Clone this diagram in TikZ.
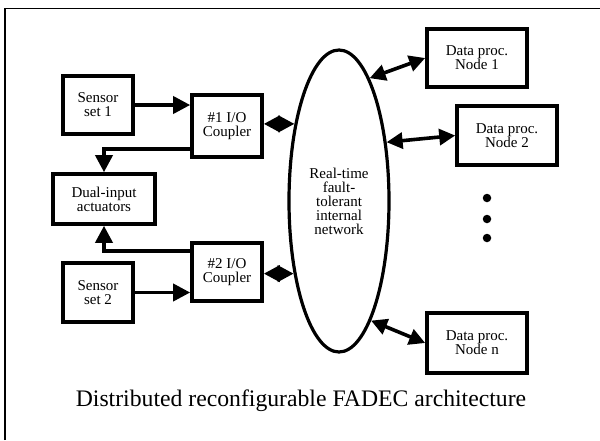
\documentclass[tikz,border=0pt]{standalone}
\usepackage{fontspec}
\setmainfont{Liberation Serif}
\usetikzlibrary{arrows.meta,shapes.geometric}

\tikzset{
  box/.style={draw, line width=3.6pt, rectangle, inner sep=0pt, align=center,
    font=\fontsize{15}{14}\selectfont},
  net/.style={draw, line width=3.2pt, ellipse, inner sep=0pt, align=center,
    font=\fontsize{15}{14}\selectfont},
  link/.style={line width=3.6pt, -{Triangle[length=17pt,width=17pt]}},
  dlink/.style={line width=3.6pt, {Triangle[length=16pt,width=16pt]}-{Triangle[length=16pt,width=16pt]}},
  dot/.style={circle, fill, inner sep=0pt, minimum size=8.5pt}
}

\begin{document}
\begin{tikzpicture}[x=1pt, y=-1pt]
\useasboundingbox (0,0) rectangle (600,440);

% frame (top and left edges)
\draw[line width=1.2pt] (5,440) -- (5,8.3) -- (600,8.3);

% left column
\node[box, minimum width=70pt, minimum height=58pt] (s1) at (98,105) {Sensor\\set 1};
\node[box, minimum width=70pt, minimum height=62pt] (c1) at (227,126) {\#1 I/O\\Coupler};
\node[box, minimum width=102pt, minimum height=50pt] (act) at (104,199) {Dual-input\\actuators};
\node[box, minimum width=70pt, minimum height=58pt] (c2) at (227,272) {\#2 I/O\\Coupler};
\node[box, minimum width=70pt, minimum height=59pt] (s2) at (98,292.5) {Sensor\\set 2};

% network
\node[net, minimum width=100pt, minimum height=302pt] (net) at (339,201)
  {Real-time\\fault-\\tolerant\\internal\\network};

% processing nodes
\node[box, minimum width=100pt, minimum height=58pt] (n1) at (477,58) {Data proc.\\Node 1};
\node[box, minimum width=100pt, minimum height=59pt] (n2) at (507,135.5) {Data proc.\\Node 2};
\node[box, minimum width=100pt, minimum height=60pt] (nn) at (477,343) {Data proc.\\Node n};

\node[dot] (d1) at (487,198) {};
\node[dot] (d2) at (487,219) {};
\node[dot] (d3) at (487,238) {};

% caption
\node[font=\fontsize{23.7}{26}\selectfont] (cap) at (301,401)
  {Distributed reconfigurable FADEC architecture};

% sensor to coupler
\draw[link] (s1.east) -- (c1.west |- s1.east);
\draw[link] (s2.east) -- (c2.west |- s2.east);

% couplers to actuators
\draw[link] ([yshift=10pt]c1.south west) -| (act.north);
\draw[link] ([yshift=-10pt]c2.north west) -| (act.south);

% couplers to network
\coordinate (p1) at (net.120.5);
\coordinate (p2) at (net.238.6);
\draw[dlink] (c1.east |- p1) -- (p1);
\draw[dlink] (c2.east |- p2) -- (p2);

% network to processing nodes
\draw[dlink] (net.76) -- (n1.west);
\draw[dlink] (net.51) -- (n2.west);
\draw[dlink] (net.-75.4) -- (nn.west);
\end{tikzpicture}
\end{document}
